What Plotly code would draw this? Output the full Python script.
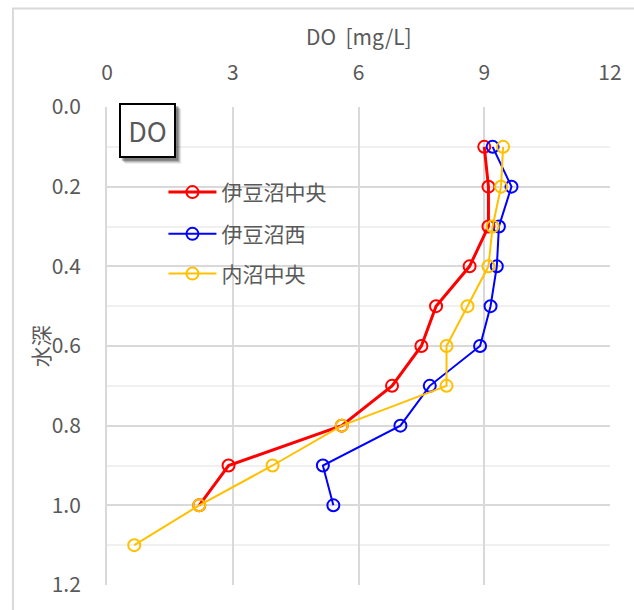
import plotly.graph_objects as go

depth = [0.1, 0.2, 0.3, 0.4, 0.5, 0.6, 0.7, 0.8, 0.9, 1.0]
depth_uchinuma = [0.1, 0.2, 0.3, 0.4, 0.5, 0.6, 0.7, 0.8, 0.9, 1.0, 1.1]
do_izunuma_center = [9.0, 9.1, 9.1, 8.65, 7.85, 7.5, 6.8, 5.6, 2.9, 2.2]
do_izunuma_west = [9.2, 9.65, 9.35, 9.3, 9.15, 8.9, 7.7, 7.0, 5.15, 5.4]
do_uchinuma_center = [9.45, 9.4, 9.2, 9.1, 8.6, 8.1, 8.1, 5.6, 3.95, 2.2, 0.65]
names = ["伊豆沼中央", "伊豆沼西", "内沼中央"]
x_ticks = [0, 3, 6, 9, 12]
y_ticks = [0.0, 0.2, 0.4, 0.6, 0.8, 1.0, 1.2]

FONT = "Noto Sans CJK JP, Noto Sans, sans-serif"
GRAY = "#595959"

W, H = 634, 610
L, R, T, B = 107, 19, 107, 22
PW, PH = W - L - R, H - T - B


def px(x):
    return (x - L) / PW


def py(y):
    return (H - B - y) / PH


fig = go.Figure()
series = [
    (do_izunuma_center, depth, "#ff0000", 3, "legend"),
    (do_izunuma_west, depth, "#0000ff", 2, "legend2"),
    (do_uchinuma_center, depth_uchinuma, "#ffc000", 2, "legend3"),
]
for (xs, ys, col, lw, lg), nm in zip(series, names):
    fig.add_trace(go.Scatter(
        x=xs, y=ys, name=nm, mode="lines+markers",
        line=dict(color=col, width=lw),
        marker=dict(symbol="circle", size=12, color="rgba(255,255,255,0)",
                    line=dict(color=col, width=2)),
        legend=lg,
    ))

leg_common = dict(font=dict(family=FONT, size=21, color=GRAY),
                  bgcolor="rgba(0,0,0,0)", xanchor="left", yanchor="middle",
                  itemwidth=48)
fig.update_layout(
    width=W, height=H,
    margin=dict(l=L, r=R, t=T, b=B),
    paper_bgcolor="white", plot_bgcolor="white",
    font=dict(family=FONT, size=21, color=GRAY),
    legend=dict(x=px(164), y=py(193), **leg_common),
    legend2=dict(x=px(164), y=py(235), **leg_common),
    legend3=dict(x=px(164), y=py(275), **leg_common),
    xaxis=dict(
        side="top", range=[0, 12], tickvals=x_ticks,
        showgrid=True, gridcolor="#d9d9d9", gridwidth=2,
        zeroline=False, showline=False, ticks="",
        ticklabelstandoff=22,
        tickfont=dict(family=FONT, size=21, color=GRAY),
    ),
    yaxis=dict(
        range=[1.2, 0], tickvals=y_ticks, tickformat=".1f",
        showgrid=True, gridcolor="#d9d9d9", gridwidth=2,
        minor=dict(dtick=0.1, showgrid=True, gridcolor="#f0f0f0", gridwidth=2),
        zeroline=False, showline=True, linecolor="#d9d9d9", linewidth=2,
        ticks="", ticklabelstandoff=20,
        tickfont=dict(family=FONT, size=21, color=GRAY),
    ),
    showlegend=True,
)

# outer chart border
fig.add_shape(type="rect", xref="paper", yref="paper",
              x0=px(12), x1=px(660), y0=py(640), y1=py(8),
              line=dict(color="#d9d9d9", width=2), fillcolor="rgba(0,0,0,0)",
              layer="below")

# shadow for DO box
for off, op in [(6, 0.08), (5, 0.12), (4, 0.18), (3, 0.25)]:
    fig.add_shape(type="rect", xref="paper", yref="paper",
                  x0=px(119 + off), x1=px(176 + off), y0=py(158 + off), y1=py(103 + off),
                  line=dict(width=0), fillcolor=f"rgba(0,0,0,{op})", layer="above")

fig.add_annotation(text="DO", xref="paper", yref="paper",
                   x=px(147.5), y=py(130.5), xanchor="center", yanchor="middle",
                   showarrow=False, width=53, height=51, borderpad=0,
                   bordercolor="#000000", borderwidth=2, bgcolor="white",
                   font=dict(family=FONT, size=27, color=GRAY))

fig.add_annotation(text="DO\u00a0\u00a0[mg/L]", xref="paper", yref="paper",
                   x=px(361), y=py(36), xanchor="center", yanchor="middle",
                   showarrow=False, font=dict(family=FONT, size=21, color=GRAY))

fig.add_annotation(text="水深", xref="paper", yref="paper",
                   x=px(40), y=py(348), xanchor="center", yanchor="middle",
                   showarrow=False, textangle=-90,
                   font=dict(family=FONT, size=21, color=GRAY))

fig.write_html("out.html", config={"displayModeBar": False},
               post_script="document.body.style.margin='0px';")
